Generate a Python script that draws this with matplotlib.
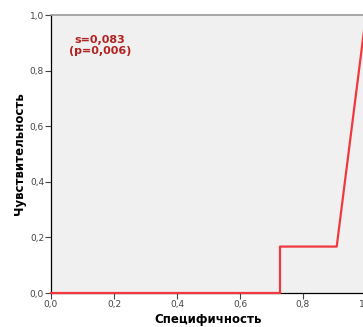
import matplotlib
matplotlib.use('Agg')
import matplotlib.pyplot as plt

# ROC curve points
spec = [0.0, 0.727, 0.727, 0.907, 1.0]
sens = [0.0, 0.0, 0.167, 0.167, 1.0]
ticks = [0.0, 0.2, 0.4, 0.6, 0.8, 1.0]
tick_labels = ['0,0', '0,2', '0,4', '0,6', '0,8', '1,0']

fig = plt.figure(figsize=(3.63, 3.27), dpi=100)
ax = fig.add_axes([51 / 363, 34 / 327, 315 / 363, 278 / 327])
ax.set_facecolor('#f0f0f0')

ax.plot(spec, sens, color='#f0393f', linewidth=1.6, clip_on=False, zorder=3)

ax.set_xlim(0, 1)
ax.set_ylim(0, 1)
ax.set_xticks(ticks)
ax.set_xticklabels(tick_labels)
ax.set_yticks(ticks)
ax.set_yticklabels(tick_labels)
ax.tick_params(labelsize=6.5, colors='#444444', length=4, width=0.8, pad=1)

for s in ['left', 'bottom']:
    ax.spines[s].set_color('black')
    ax.spines[s].set_linewidth(0.9)
ax.spines['top'].set_color('#999999')
ax.spines['top'].set_linewidth(1.2)
ax.spines['right'].set_visible(False)

ax.text(0.155, 0.89, 's=0,083\n(p=0,006)', color='#b22222', fontsize=8,
        fontweight='bold', ha='center', va='center', linespacing=1.15)

ax.set_xlabel('Специфичность', fontsize=8.5, fontweight='bold', labelpad=3)
ax.set_ylabel('Чувствительность', fontsize=8.5, fontweight='bold', labelpad=3)

fig.savefig('out.png', dpi=100)
